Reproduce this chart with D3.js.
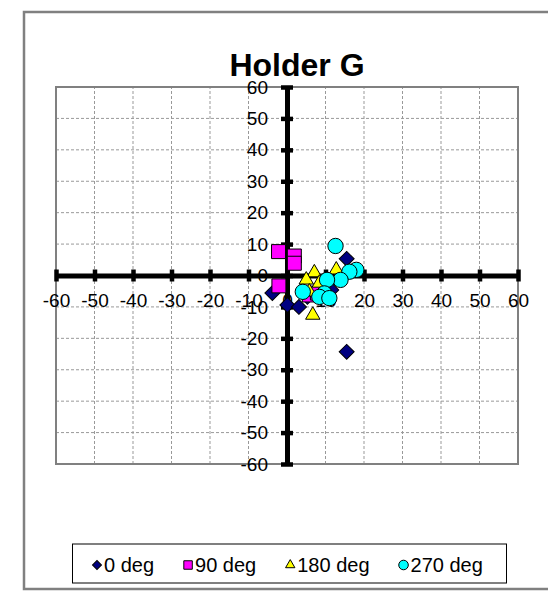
<!DOCTYPE html>
<html lang="en">
<head>
  <meta charset="UTF-8">
  <title>Holder G</title>
  <script src="https://d3js.org/d3.v7.min.js"></script>
  <style>
    body { margin: 0; background: #fff; font-family: Arial, "Liberation Sans", sans-serif; }
    .grid line { stroke: #999; stroke-width: 1px; stroke-dasharray: 3,2; }
    .axis text { font-size: 19px; fill: #000; font-family: Arial, "Liberation Sans", sans-serif; }
    .legend text { font-size: 20px; font-family: Arial, "Liberation Sans", sans-serif; }
  </style>
</head>
<body>
  <div id="chart"></div>
  <script>
    // series names + marker colours
    const seriesNames = ["0 deg", "90 deg", "180 deg", "270 deg"];
    const seriesColors = ["#000080", "#FF00FF", "#FFFF00", "#00FFFF"];
    const tickValues = [-60, -50, -40, -30, -20, -10, 0, 10, 20, 30, 40, 50, 60];

    // values: [x, y]
    const deg0 = [[-3.8, -5.6], [0.1, -9.4], [3.1, -10], [15.5, 5.3], [15.5, -24.3],
                  [11.5, -4.6], [5.3, -6.8], [8.7, -5.6]];
    const deg90 = [[-2.2, 7.6], [1.9, 6.2], [1.9, 3.9], [-2.1, -3.3], [5.8, -6.2], [7.9, -5.6]];
    const deg180 = [[7.1, 0.9], [5, -1.4], [12.8, 1.8], [6.7, -12.6], [5.8, -5.2], [8.4, -2.4]];
    const deg270 = [[12.6, 9.4], [18, 1.8], [16.2, 1.2], [13.9, -1.4], [10.4, -1.4],
                    [4.1, -5.2], [9.7, -5.7], [8.4, -6.8], [11, -7.2]];
    const seriesData = [deg0, deg90, deg180, deg270];

    const W = 548, H = 595;
    const svg = d3.select("#chart").append("svg")
      .attr("width", W).attr("height", H);

    // outer chart frame
    svg.append("rect")
      .attr("x", 24).attr("y", 12).attr("width", 560).attr("height", 577)
      .attr("fill", "#fff").attr("stroke", "#808080").attr("stroke-width", 2.5);

    const x = d3.scaleLinear().domain([-60, 60]).range([56, 518]);
    const y = d3.scaleLinear().domain([-60, 60]).range([464, 87]);

    // gridlines
    const grid = svg.append("g").attr("class", "grid");
    grid.selectAll(".vx").data(tickValues).enter().append("line")
      .attr("x1", d => x(d)).attr("x2", d => x(d))
      .attr("y1", y(-60)).attr("y2", y(60));
    grid.selectAll(".hy").data(tickValues).enter().append("line")
      .attr("y1", d => y(d)).attr("y2", d => y(d))
      .attr("x1", x(-60)).attr("x2", x(60));

    svg.append("rect")
      .attr("x", x(-60)).attr("y", y(60))
      .attr("width", x(60) - x(-60)).attr("height", y(-60) - y(60))
      .attr("fill", "none").attr("stroke", "#808080").attr("stroke-width", 2);

    // axes through origin, with crossing ticks (plain hyphen minus like the original)
    const fmt = d => String(d);
    const xAxis = svg.append("g").attr("class", "axis")
      .attr("transform", `translate(0,${y(0)})`)
      .call(d3.axisBottom(x).tickValues(tickValues).tickFormat(fmt).tickSize(12).tickSizeOuter(0));
    xAxis.select(".domain").attr("stroke", "#000").attr("stroke-width", 5);
    xAxis.selectAll(".tick line").attr("y1", -6).attr("y2", 6)
      .attr("stroke", "#000").attr("stroke-width", 4.5);
    xAxis.selectAll(".tick text").attr("y", 31).attr("dy", 0);

    const yAxis = svg.append("g").attr("class", "axis")
      .attr("transform", `translate(${x(0)},0)`)
      .call(d3.axisLeft(y).tickValues(tickValues).tickFormat(fmt).tickSize(12).tickSizeOuter(0));
    yAxis.select(".domain").attr("stroke", "#000").attr("stroke-width", 5);
    yAxis.selectAll(".tick line").attr("x1", -6).attr("x2", 6)
      .attr("stroke", "#000").attr("stroke-width", 4.5);
    yAxis.selectAll(".tick text").attr("x", -19);

    // marker shapes
    function marker(i, big) {
      if (i === 0) return d3.symbol(d3.symbolSquare, big ? 112 : 40)();
      if (i === 1) return d3.symbol(d3.symbolSquare, big ? 196 : 72)();
      if (i === 2) return d3.symbol(d3.symbolTriangle, big ? 90 : 38)();
      return d3.symbol(d3.symbolCircle, big ? 185 : 72)();
    }

    seriesData.forEach((pts, i) => {
      svg.append("g").selectAll("path").data(pts).enter().append("path")
        .attr("d", marker(i, true))
        .attr("transform", d => `translate(${x(d[0])},${y(d[1])})` + (i === 0 ? " rotate(45)" : ""))
        .attr("fill", seriesColors[i])
        .attr("stroke", "#000").attr("stroke-width", 1);
    });

    // title
    svg.append("text")
      .attr("x", 297).attr("y", 76)
      .attr("text-anchor", "middle")
      .style("font-size", "32px").style("font-weight", "bold")
      .text("Holder G");

    // legend
    const legend = svg.append("g").attr("class", "legend");
    legend.append("rect")
      .attr("x", 72.5).attr("y", 544).attr("width", 434).attr("height", 39)
      .attr("fill", "#fff").attr("stroke", "#000").attr("stroke-width", 1);
    let lx = 97;
    seriesNames.forEach((name, i) => {
      legend.append("path")
        .attr("d", marker(i, false))
        .attr("transform", `translate(${lx},565)` + (i === 0 ? " rotate(45)" : ""))
        .attr("fill", seriesColors[i]).attr("stroke", "#000").attr("stroke-width", 1);
      const t = legend.append("text")
        .attr("x", lx + 7).attr("y", 572).text(name);
      lx += 7 + t.node().getComputedTextLength() + 34;
    });

    // cut-off glyph at the very bottom
    svg.append("text")
      .attr("x", 33).attr("y", 620)
      .style("font-size", "32px").style("font-weight", "bold")
      .text("C");
  </script>
</body>
</html>
